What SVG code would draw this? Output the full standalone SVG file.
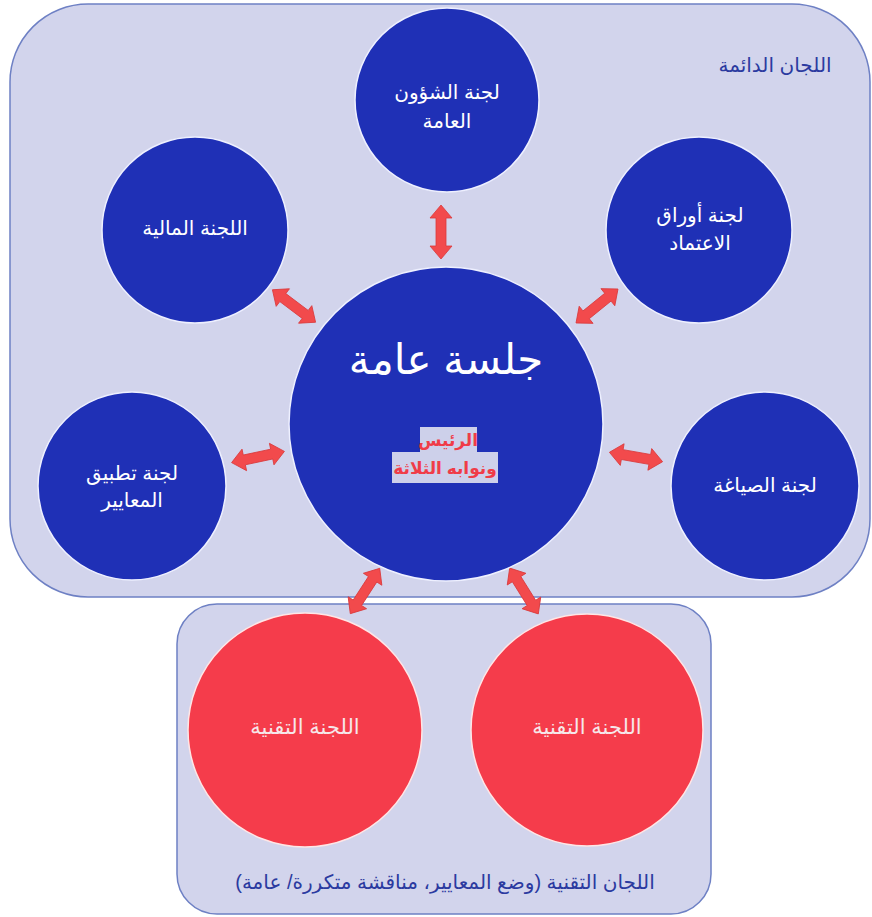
<svg xmlns="http://www.w3.org/2000/svg" xmlns:xlink="http://www.w3.org/1999/xlink" width="872" height="917" viewBox="0 0 872 917">
<style>
.panel{fill:#d2d4ec;stroke:#6e80c4;stroke-width:1.5}
.blue{fill:#1f30b6;stroke:#eef0ff;stroke-width:1.5}
.red{fill:#f53c4b;stroke:#ffe6e6;stroke-width:1.5}
.t{font-family:"Liberation Sans","DejaVu Sans",sans-serif;text-anchor:middle;direction:rtl}
.w{fill:#ffffff;font-size:20px}
.rw{fill:#f6e8ea;font-size:21px}
.lbl{fill:#2b3aa0;font-size:20px}
.arrow{fill:#f24a4c;stroke:#d93a3c;stroke-width:0.8}
</style>
<defs>
<path id="dbl" d="M-27,0 L-14,-11 L-14,-5 L14,-5 L14,-11 L27,0 L14,11 L14,5 L-14,5 L-14,11 Z"/>
</defs>
<g id="standing-panel">
<rect class="panel" x="10" y="4" width="860" height="593" rx="78" ry="78"/>
<text class="t lbl" x="775" y="72" font-size="21">اللجان الدائمة</text>
</g>
<g id="technical-panel">
<rect class="panel" x="177" y="604" width="534" height="310" rx="40" ry="40"/>
<text class="t lbl" x="445" y="889">اللجان التقنية (وضع المعايير، مناقشة متكررة/ عامة)</text>
</g>
<g id="connectors">
<use class="arrow" xlink:href="#dbl" transform="translate(441,232) rotate(90)"/>
<use class="arrow" xlink:href="#dbl" transform="translate(294,306) rotate(37)"/>
<use class="arrow" xlink:href="#dbl" transform="translate(597,306) rotate(-39)"/>
<use class="arrow" xlink:href="#dbl" transform="translate(258,457) rotate(-12)"/>
<use class="arrow" xlink:href="#dbl" transform="translate(636,457) rotate(10)"/>
<use class="arrow" xlink:href="#dbl" transform="translate(365,591) rotate(-57)"/>
<use class="arrow" xlink:href="#dbl" transform="translate(524,591) rotate(58)"/>
</g>
<g id="general-session">
<circle class="blue" cx="446" cy="424" r="157"/>
<text class="t" x="446" y="374" fill="#ffffff" font-size="42">جلسة عامة</text>
<rect x="420" y="427" width="57" height="25" fill="#cdd0ea"/>
<rect x="392" y="452" width="106" height="31" fill="#cdd0ea"/>
<text class="t" x="448" y="446" fill="#f03c48" font-size="17" font-weight="bold">الرئيس</text>
<text class="t" x="445" y="474" fill="#f03c48" font-size="17" font-weight="bold">ونوابه الثلاثة</text>
</g>
<g id="public-affairs">
<circle class="blue" cx="447" cy="100" r="92"/>
<text class="t w" x="447" y="99">لجنة الشؤون</text>
<text class="t w" x="447" y="128">العامة</text>
</g>
<g id="finance">
<circle class="blue" cx="195" cy="230" r="93"/>
<text class="t w" x="195" y="235">اللجنة المالية</text>
</g>
<g id="credentials">
<circle class="blue" cx="699" cy="230" r="93"/>
<text class="t w" x="700" y="222">لجنة أوراق</text>
<text class="t w" x="700" y="250">الاعتماد</text>
</g>
<g id="standards-application">
<circle class="blue" cx="132" cy="486" r="94"/>
<text class="t w" x="132" y="480">لجنة تطبيق</text>
<text class="t w" x="132" y="507">المعايير</text>
</g>
<g id="drafting">
<circle class="blue" cx="765" cy="486" r="94"/>
<text class="t w" x="765" y="492">لجنة الصياغة</text>
</g>
<g id="technical-1">
<circle class="red" cx="305" cy="730" r="117"/>
<text class="t rw" x="305" y="734">اللجنة التقنية</text>
</g>
<g id="technical-2">
<circle class="red" cx="587" cy="730" r="116"/>
<text class="t rw" x="587" y="734">اللجنة التقنية</text>
</g>
</svg>
